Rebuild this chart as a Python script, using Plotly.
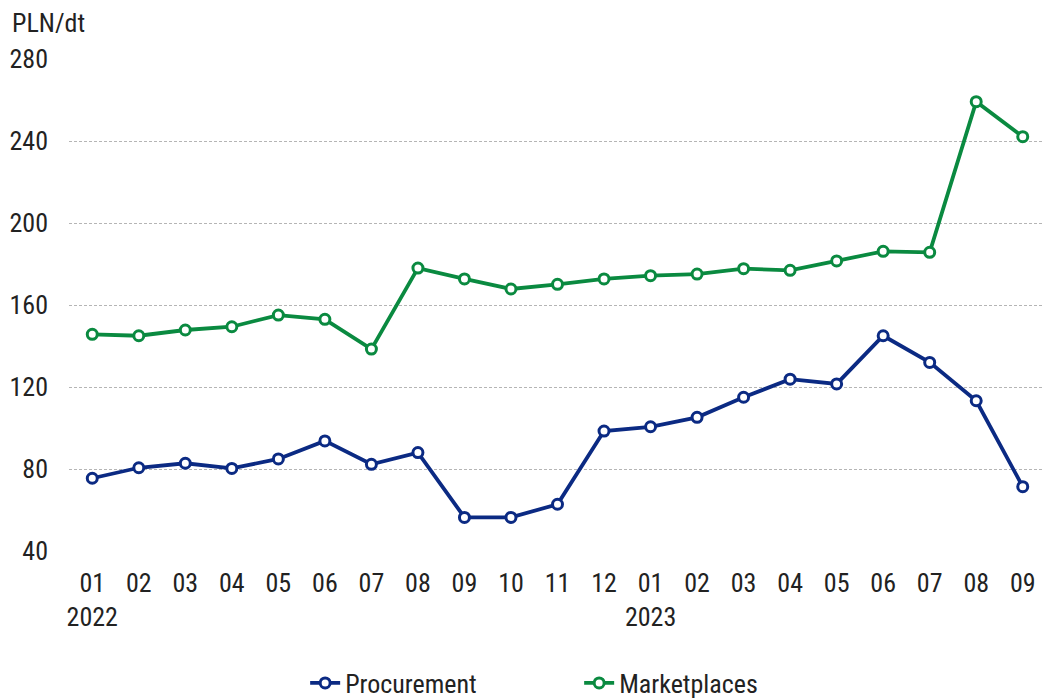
import plotly.graph_objects as go

months = ["01", "02", "03", "04", "05", "06", "07", "08", "09", "10", "11", "12",
          "01", "02", "03", "04", "05", "06", "07", "08", "09"]
years = ["2022", "", "", "", "", "", "", "", "", "", "", "",
         "2023", "", "", "", "", "", "", "", ""]
procurement = [75.5, 80.6, 82.8, 80.3, 84.9, 93.7, 82.3, 88.0, 56.4, 56.4, 62.8, 98.5,
               100.6, 105.2, 115.0, 123.8, 121.5, 145.0, 132.0, 113.3, 71.4]
marketplaces = [145.7, 145.0, 147.8, 149.4, 155.1, 153.0, 138.5, 178.0, 172.7, 167.8, 170.1, 172.7,
                174.3, 175.1, 177.7, 176.9, 181.5, 186.2, 185.7, 259.2, 242.1]
y_ticks = [40, 80, 120, 160, 200, 240, 280]

labels = [m + ("<br>" + y if y else "<br> ") for m, y in zip(months, years)]
xs = list(range(len(months)))

BLUE = "#0b2a83"
GREEN = "#0a8a40"
FONT = "Liberation Sans Narrow, Roboto Condensed, Noto Sans, sans-serif"
TXT = "#222222"

fig = go.Figure()
fig.add_trace(go.Scatter(
    x=xs, y=procurement, name="Procurement", mode="lines+markers",
    line=dict(color=BLUE, width=3.8),
    marker=dict(symbol="circle", size=10, color="white", line=dict(color=BLUE, width=3)),
))
fig.add_trace(go.Scatter(
    x=xs, y=marketplaces, name="Marketplaces", mode="lines+markers",
    line=dict(color=GREEN, width=3.8),
    marker=dict(symbol="circle", size=10, color="white", line=dict(color=GREEN, width=3)),
))

# the page body adds an 8px offset; positions below are in window pixels
OFF = 8
W, H = 1050 - OFF, 699 - OFF
L, R, T, B = 68.7 - OFF, 3.7, 59 - OFF, 148
PW = W - L - R
PH = H - T - B

fig.update_layout(
    width=W, height=H,
    margin=dict(l=L, r=R, t=T, b=B, autoexpand=False),
    paper_bgcolor="white", plot_bgcolor="white",
    font=dict(family=FONT, size=26, color=TXT),
    showlegend=True,
    legend=dict(orientation="h", x=(315 - OFF - L - 10) / PW, xanchor="left",
                y=-(683 - OFF - (T + PH)) / PH, yanchor="middle",
                font=dict(size=26, color=TXT), entrywidth=229, entrywidthmode="pixels"),
    annotations=[dict(text="PLN/dt", x=(10 - OFF - L) / PW, y=1 + (T - (23 - OFF)) / PH,
                      xref="paper", yref="paper",
                      showarrow=False, xanchor="left", yanchor="middle",
                      font=dict(size=26, color=TXT))],
)

fig.update_xaxes(
    tickmode="array", tickvals=xs, ticktext=labels, automargin=False,
    range=[-0.5, len(xs) - 0.5], showgrid=False, showline=False, zeroline=False,
    ticks="", ticklabelstandoff=14, tickangle=0,
)
fig.update_yaxes(
    range=[40, 280], tickvals=y_ticks, showgrid=True, gridcolor="#b5b5b5", automargin=False,
    griddash="3px,2px", gridwidth=1, zeroline=False, showline=False,
    ticks="", ticklabelstandoff=20,
)

fig.write_html("out.html")
